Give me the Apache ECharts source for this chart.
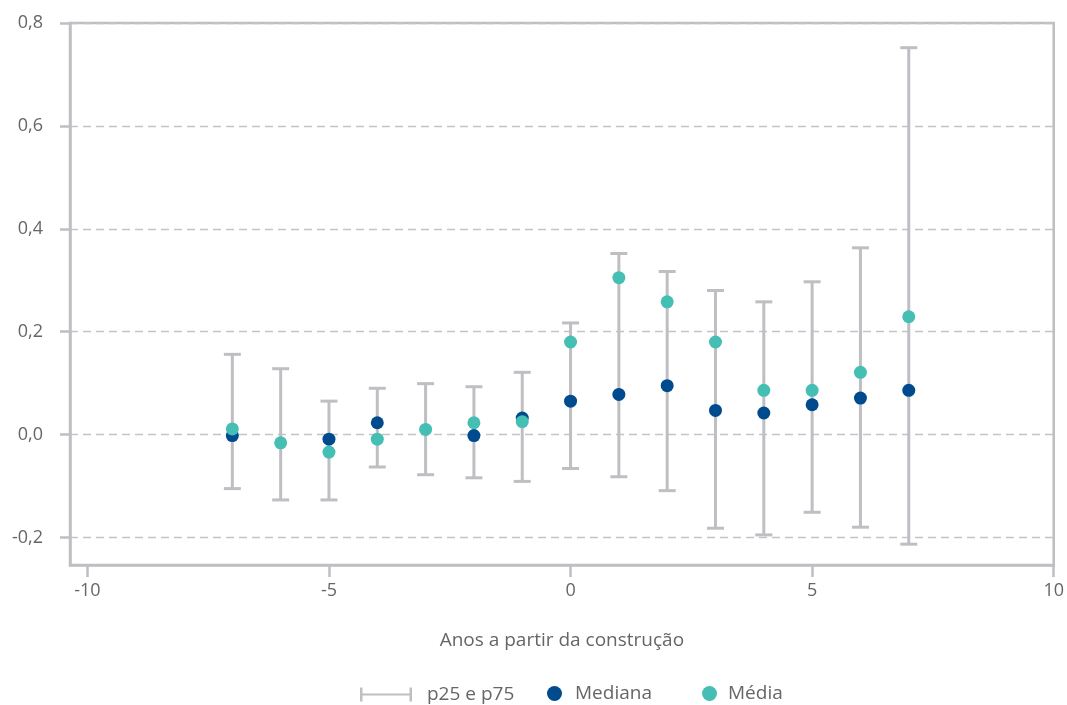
<!DOCTYPE html>
<html>
<head>
<meta charset="utf-8">
<script src="https://cdn.jsdelivr.net/npm/echarts@6/dist/echarts.min.js"></script>
<style>html,body{margin:0;padding:0;background:#fff;}#c{width:1067px;height:705px;}</style>
</head>
<body>
<div id="c"></div>
<script>
// Data
const years = [-7, -6, -5, -4, -3, -2, -1, 0, 1, 2, 3, 4, 5, 6, 7];
const p25 = [-0.105, -0.127, -0.127, -0.063, -0.078, -0.084, -0.091, -0.066, -0.082, -0.109, -0.182, -0.195, -0.151, -0.180, -0.213];
const p75 = [0.156, 0.128, 0.065, 0.090, 0.099, 0.093, 0.121, 0.217, 0.352, 0.317, 0.280, 0.258, 0.297, 0.363, 0.752];
const mediana = [-0.002, null, -0.009, 0.023, null, -0.002, 0.032, 0.065, 0.078, 0.095, 0.047, 0.042, 0.058, 0.071, 0.086];
const media = [0.011, -0.016, -0.034, -0.009, 0.010, 0.023, 0.025, 0.180, 0.305, 0.258, 0.180, 0.086, 0.086, 0.121, 0.229];
const xTicks = [-10, -5, 0, 5, 10];
const yTicks = [-0.2, 0, 0.2, 0.4, 0.6, 0.8];

const grey = '#bfbfc3';
const textColor = '#666666';
const font = "'Open Sans', sans-serif";
const cMed = '#004b8d';
const cMean = '#45bfb4';

const chart = echarts.init(document.getElementById('c'), null, {renderer: 'canvas'});
const errIcon = 'path://M0,0h2.5v14h-2.5z M2.5,6h47v2h-47z M49.5,0h2.5v14h-2.5z';

chart.setOption({
  animation: false,
  backgroundColor: '#fff',
  textStyle: {fontFamily: font},
  grid: {left: 70, right: 10, top: 23, bottom: 140, show: true, borderColor: grey, borderWidth: 2.5, containLabel: false},
  xAxis: {
    type: 'value', min: -10.36, max: 10,
    name: 'Anos a partir da construção', nameLocation: 'middle', nameGap: 66,
    nameTextStyle: {color: textColor, fontSize: 19, fontFamily: font},
    axisLine: {show: true, onZero: false, lineStyle: {color: grey, width: 2.5}},
    axisTick: {show: true, length: 12, lineStyle: {color: grey, width: 2.5}, customValues: xTicks},
    axisLabel: {color: textColor, fontSize: 18, fontFamily: font, margin: 17, customValues: xTicks,
      formatter: v => String(v)},
    splitLine: {show: false}
  },
  yAxis: {
    type: 'value', min: -0.2535, max: 0.8,
    axisLine: {show: true, onZero: false, lineStyle: {color: grey, width: 2.5}},
    axisTick: {show: true, length: 10, lineStyle: {color: grey, width: 2.5}, customValues: yTicks},
    axisLabel: {color: textColor, fontSize: 18, fontFamily: font, margin: 27, customValues: yTicks,
      formatter: v => v.toFixed(1).replace('.', ',')},
    splitLine: {show: true, lineStyle: {color: '#c4c4c8', width: 1.3, type: [8, 5]}}
  },
  legend: [
    {left: 360, top: 685, padding: 0, itemWidth: 52, itemHeight: 14,
     data: [{name: 'p25 e p75', icon: errIcon, itemStyle: {color: grey}}],
     textStyle: {color: textColor, fontSize: 19, fontFamily: font, padding: [0, 0, 0, 10]}},
    {left: 547, top: 684, padding: 0, itemWidth: 15, itemHeight: 15,
     data: [{name: 'Mediana', icon: 'circle'}],
     textStyle: {color: textColor, fontSize: 19, fontFamily: font, padding: [0, 0, 0, 8]}},
    {left: 702, top: 684, padding: 0, itemWidth: 15, itemHeight: 15,
     data: [{name: 'Média', icon: 'circle'}],
     textStyle: {color: textColor, fontSize: 19, fontFamily: font, padding: [0, 0, 0, 6]}}
  ],
  series: [
    {
      name: 'p25 e p75', type: 'custom', z: 2,
      itemStyle: {color: grey},
      encode: {x: 0, y: [1, 2]},
      data: years.map((y, i) => [y, p25[i], p75[i]]),
      renderItem: function (params, api) {
        const x = api.value(0);
        const lo = api.coord([x, api.value(1)]);
        const hi = api.coord([x, api.value(2)]);
        const hw = 8.5;
        const st = {stroke: grey, lineWidth: 3};
        return {type: 'group', children: [
          {type: 'line', shape: {x1: hi[0], y1: hi[1], x2: lo[0], y2: lo[1]}, style: st},
          {type: 'line', shape: {x1: hi[0] - hw, y1: hi[1], x2: hi[0] + hw, y2: hi[1]}, style: st},
          {type: 'line', shape: {x1: lo[0] - hw, y1: lo[1], x2: lo[0] + hw, y2: lo[1]}, style: st}
        ]};
      }
    },
    {
      name: 'Mediana', type: 'scatter', z: 3, symbol: 'circle', symbolSize: 13,
      itemStyle: {color: cMed, opacity: 1},
      data: years.map((y, i) => [y, mediana[i]])
    },
    {
      name: 'Média', type: 'scatter', z: 4, symbol: 'circle', symbolSize: 13,
      itemStyle: {color: cMean, opacity: 1},
      data: years.map((y, i) => [y, media[i]])
    }
  ]
});
</script>
</body>
</html>
